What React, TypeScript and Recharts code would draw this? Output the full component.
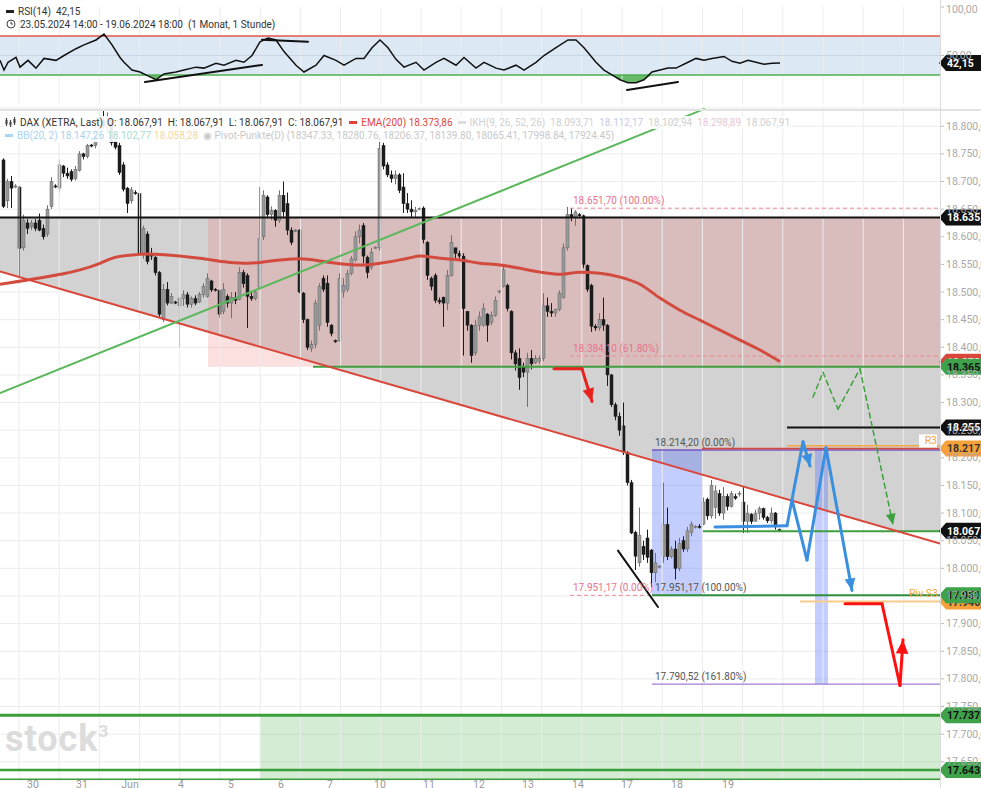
import React from 'react';
import {
  ComposedChart, Bar, Line, Area, XAxis, YAxis, ReferenceLine, ReferenceArea, ReferenceDot, CartesianGrid,
} from 'recharts';

const FONT = 'Roboto, "Liberation Sans", Arial, sans-serif';

// hourly candles [open, high, low, close]
const candles: number[][] = [
  [18739,18742,18652,18655],[18665,18705,18652,18700],[18700,18710,18652,18688],[18690,18695,18688,18692],
  [18690,18692,18527,18579],[18580,18640,18575,18630],[18625,18632,18605,18615],[18618,18630,18612,18625],
  [18625,18632,18610,18615],[18630,18642,18610,18612],[18615,18622,18595,18600],[18605,18657,18600,18650],
  [18655,18708,18650,18700],[18692,18695,18688,18690],[18688,18740,18680,18730],[18728,18730,18708,18715],
  [18715,18725,18705,18710],[18718,18722,18700,18704],[18705,18728,18702,18722],[18720,18755,18718,18750],
  [18750,18752,18740,18745],[18745,18768,18742,18765],[18766,18768,18762,18764],[18765,18800,18760,18790],
  [18790,18822,18780,18810],[18810,18828,18795,18800],[18800,18825,18790,18815],[18812,18815,18765,18770],
  [18772,18775,18758,18762],[18765,18770,18712,18716],[18730,18735,18682,18686],[18688,18690,18643,18660],
  [18665,18690,18660,18685],[18680,18684,18676,18678],[18678,18682,18565,18570],[18568,18620,18560,18615],
  [18605,18610,18550,18555],[18570,18580,18558,18565],[18563,18565,18530,18535],[18535,18538,18455,18460],
  [18450,18515,18446,18505],[18505,18518,18476,18480],[18480,18498,18478,18492],[18482,18484,18478,18480],
  [18475,18492,18400,18488],[18488,18503,18475,18495],[18495,18500,18472,18478],[18478,18492,18472,18488],
  [18488,18494,18476,18480],[18482,18500,18480,18496],[18495,18516,18490,18510],[18492,18534,18490,18525],
  [18520,18522,18500,18504],[18505,18507,18501,18503],[18503,18505,18453,18460],[18465,18516,18460,18505],
  [18492,18496,18472,18480],[18480,18500,18453,18490],[18490,18500,18478,18485],[18487,18545,18485,18535],
  [18535,18540,18508,18515],[18530,18534,18435,18492],[18492,18500,18484,18488],[18488,18505,18485,18500],
  [18509,18690,18505,18597],[18600,18684,18594,18675],[18672,18675,18634,18640],[18640,18655,18630,18648],
  [18648,18650,18618,18630],[18630,18684,18625,18675],[18675,18700,18635,18645],[18660,18680,18603,18612],
  [18612,18617,18585,18590],[18610,18614,18608,18612],[18612,18614,18498,18500],[18498,18500,18444,18450],
  [18450,18452,18395,18400],[18398,18412,18392,18405],[18405,18486,18398,18480],[18440,18516,18430,18510],
  [18525,18530,18500,18505],[18516,18530,18437,18445],[18440,18442,18420,18425],[18412,18414,18408,18410],
  [18412,18534,18410,18525],[18500,18525,18490,18512],[18505,18540,18500,18534],[18534,18565,18530,18560],
  [18558,18610,18555,18600],[18600,18622,18588,18612],[18620,18625,18552,18565],[18563,18566,18525,18535],
  [18545,18580,18540,18572],[18580,18583,18578,18581],[18580,18772,18575,18760],[18765,18770,18722,18728],
  [18730,18735,18708,18712],[18712,18720,18698,18705],[18705,18720,18695,18712],[18712,18715,18679,18684],
  [18690,18715,18643,18660],[18660,18679,18643,18650],[18650,18666,18635,18645],[18645,18654,18635,18648],
  [18650,18653,18648,18651],[18652,18655,18588,18595],[18590,18592,18522,18530],[18525,18528,18503,18510],
  [18530,18534,18480,18485],[18485,18490,18478,18482],[18490,18492,18437,18480],[18480,18540,18467,18530],
  [18530,18603,18528,18590],[18580,18580,18560,18570],[18570,18575,18560,18565],[18565,18570,18385,18470],
  [18465,18465,18430,18440],[18440,18442,18372,18385],[18390,18450,18385,18440],[18440,18465,18430,18455],
  [18440,18480,18437,18470],[18460,18462,18410,18440],[18445,18465,18440,18458],[18458,18492,18455,18485],
  [18500,18503,18497,18502],[18510,18547,18508,18540],[18512,18515,18465,18470],[18465,18467,18378,18390],
  [18390,18395,18358,18370],[18380,18398,18323,18345],[18365,18372,18346,18355],[18355,18390,18292,18380],
  [18380,18395,18360,18370],[18372,18386,18370,18380],[18375,18385,18370,18380],[18380,18498,18375,18475],
  [18475,18490,18455,18465],[18465,18480,18455,18462],[18462,18470,18455,18468],[18468,18503,18465,18498],
  [18490,18588,18488,18580],[18580,18654,18575,18640],[18640,18652,18628,18635],[18635,18648,18620,18645],
  [18640,18643,18635,18638],[18638,18640,18543,18550],[18548,18550,18500,18505],[18512,18515,18428,18438],
  [18438,18442,18430,18435],[18435,18462,18430,18450],[18450,18490,18430,18440],[18440,18442,18330,18350],
  [18350,18352,18292,18296],[18296,18300,18268,18275],[18275,18282,18240,18250],[18258,18300,18205,18210],
  [18210,18212,18150,18155],[18155,18160,18062,18064],[18065,18068,17997,18022],[18010,18110,18003,18060],
  [18040,18050,18015,18025],[18055,18070,18010,18020],[18033,18035,17966,17992],[17992,18028,17975,18010],
  [18003,18006,18000,18004],[18021,18155,18010,18079],[18079,18110,18015,18021],[18021,18040,18018,18035],
  [18035,18050,17980,18000],[18000,18055,17995,18045],[18050,18058,18030,18035],[18035,18075,18030,18068],
  [18065,18085,18058,18080],[18074,18078,18072,18076],[18076,18080,18072,18074],[18080,18128,18078,18120],
  [18125,18128,18088,18095],[18095,18160,18090,18150],[18110,18150,18090,18140],[18135,18142,18095,18100],
  [18100,18147,18088,18130],[18130,18135,18105,18112],[18112,18140,18110,18135],[18130,18135,18124,18127],
  [18135,18140,18130,18136],[18120,18147,18064,18085],[18085,18115,18064,18100],[18098,18100,18080,18085],
  [18085,18106,18085,18100],[18100,18112,18088,18108],[18108,18110,18088,18092],[18092,18095,18082,18086],
  [18086,18110,18081,18100],[18100,18102,18070,18075],[18070,18072,18066,18068],
];

// EMA(200) [candle index, value]
const emaPoints: number[][] = [
  [-1,18514],[7,18523],[14,18532],[19,18540],[24,18552],[27,18561],[32,18567],[36,18569],[41,18567],
  [49,18561],[56,18554],[61,18552],[69,18558],[74,18560],[81,18554],[86,18550],[90,18549],[94,18552],
  [101,18561],[104,18565],[109,18561],[114,18558],[119,18552],[124,18549],[129,18543],[134,18536],
  [139,18532],[144,18536],[149,18534],[154,18527],[159,18514],[164,18489],[169,18467],[174,18449],
  [179,18431],[184,18413],[189,18395],[194,18374],
];

// RSI(14) [candle index, value]
const rsiPoints: number[][] = [
  [-1,45],[0,35],[1,43],[3,48],[4,38],[6,45],[8,37],[10,47],[13,45],[15,50],[18,57],[20,61],[23,66],[25,72],
  [27,61],[29,48],[30,43],[32,35],[34,33],[36,29],[38,25],[40,31],[43,33],[45,35],[48,38],[50,37],[53,42],
  [55,40],[58,45],[60,43],[62,50],[64,64],[66,68],[68,66],[70,54],[73,40],[75,33],[78,40],[80,50],[83,45],
  [85,40],[88,47],[90,47],[92,58],[94,66],[96,58],[98,46],[100,38],[103,43],[105,35],[108,43],[110,47],
  [113,40],[115,48],[118,37],[120,43],[123,37],[125,35],[128,40],[130,35],[133,43],[135,50],[138,58],
  [141,66],[143,66],[145,58],[148,43],[150,35],[152,30],[154,25],[156,22],[158,22],[160,25],[162,33],
  [164,35],[166,37],[168,37],[171,43],[173,47],[175,45],[177,47],[180,49],[182,44],[184,42],[186,45],
  [188,43],[190,41],[192,42],[194,42.15],
];

const dayTicks = [7.25, 19.5, 31.5, 44.25, 56.75, 69.25, 81.5, 94, 106.25, 118.75, 131, 143.5, 155.75, 168.25, 181];
const dayLabels = ['30', '31', 'Jun', '4', '5', '6', '7', '10', '11', '12', '13', '14', '17', '18', '19'];
const priceTicks = [17650, 17700, 17750, 17800, 17850, 17900, 17950, 18000, 18050, 18100, 18150, 18200, 18250,
  18300, 18350, 18400, 18450, 18500, 18550, 18600, 18650, 18700, 18750, 18800];
const rsiTicks = [0, 50, 100];
const gridX = [3.75, 13.8, 23.85, 33.9, 43.95, 54, 64.05, 74.1, 84.15, 94.2, 104.25, 114.3, 124.35, 134.4,
  144.45, 154.5, 164.55, 174.6, 184.65, 194.7, 204.75, 214.8, 224.85];

// drawn zones / lines (index, price)
const grayZone: number[][] = [[-1, 18537, 18635], [223, 18067, 18635], [234, 18067, 18635]];
const trendDown = [[-1, 18537], [234, 18045]];
const trendUp = [[-1, 18317], [175, 18831]];
const wedgeLine = [[153.5, 18032], [163.5, 17930]];
const redPathTop = [[137.5, 18361], [144.5, 18361], [147, 18302]];
const bluePath1 = [[177.75, 18075], [195.75, 18077], [199.75, 18229], [201.5, 18185]];
const bluePath2 = [[197, 18124], [200.75, 18015], [205.5, 18218], [212, 17960]];
const greenDashPath = [[202.25, 18310], [204.75, 18355], [208.5, 18288], [214, 18361], [222.25, 18079]];
const redPathBottom = [[210.25, 17936], [219.5, 17936], [224, 17788], [224.75, 17871]];
const rsiDiv1 = [[35.25, 22.7], [64.5, 40.3]];
const rsiDiv2 = [[64.5, 66.2], [76, 64.1]];
const rsiDiv3 = [[155.75, 14.5], [168.5, 22.7]];

// horizontal levels [from, to, price, color, width, dash]
const levels: any[] = [
  [-1, 234, 18635, '#111', 2, ''],
  [77.25, 234, 18365, '#3f9f3f', 2, ''],
  [195.75, 234, 18255, '#111', 2, ''],
  [195.75, 234, 18222, '#f4a640', 1.5, ''],
  [162, 234, 18214.2, '#7a55c0', 1.5, ''],
  [174.5, 234, 18217, '#d9473b', 1.5, ''],
  [174.75, 234, 18067, '#3f9f3f', 2, ''],
  [162, 234, 17951.17, '#2f8f3f', 2, ''],
  [199, 234, 17940, '#f9cc8a', 2, ''],
  [162, 234, 17790.52, '#8a5cc8', 1, ''],
  [-1, 234, 17734, '#3a9e3a', 3, ''],
  [-1, 234, 17635, '#3a9e3a', 2.5, ''],
  [-1, 234, 17618, '#3a9e3a', 2, ''],
  [141.5, 234, 18651.7, '#ea8a95', 1, '4 3'],
  [141.5, 234, 18384.1, '#ea8a95', 1, '4 3'],
  [141.5, 162, 17951.17, '#ea8a95', 1, '4 3'],
];

// fib texts [index, price, text, color]
const fibTexts: any[] = [
  [142.25, 18651.7, '18.651,70 (100.00%)', '#e7748a'],
  [142.25, 18384.1, '18.384,10 (61.80%)', '#e7748a'],
  [142.25, 17951.17, '17.951,17 (0.00%)', '#e7748a'],
  [162.75, 18214.2, '18.214,20 (0.00%)', '#555'],
  [162.75, 17951.17, '17.951,17 (100.00%)', '#555'],
  [162.75, 17790.52, '17.790,52 (161.80%)', '#555'],
];

// right price badges [price, text, bg, fg]
const badges: any[] = [
  [18635, '18.635,00', '#111', '#fff'],
  [18373.86, '18.373,86', '#d9473b', '#fff'],
  [18365, '18.365,00', '#3fa24a', '#111'],
  [18255, '18.255,00', '#111', '#fff'],
  [18217, '18.217,00', '#f7a13a', '#333'],
  [18067.91, '18.067,91', '#111', '#fff'],
  [17940, '17.940,00', '#f7a13a', '#333'],
  [17951.17, '17.951,17', '#3fa24a', '#111'],
  [17734, '17.737,00', '#3fa24a', '#111'],
  [17635, '17.643,00', '#3fa24a', '#111'],
];

const fmtDe = (v: number, d = 2) => {
  const s = v.toFixed(d);
  const [a, b] = s.split('.');
  const int = a.replace(/\B(?=(\d{3})+(?!\d))/g, '.');
  return b ? `${int},${b}` : int;
};

const rows: any[] = [];
for (let i = -1; i <= 234; i++) rows.push({ i });
candles.forEach((c, k) => {
  const r = rows[k + 1];
  r.o = c[0]; r.h = c[1]; r.l = c[2]; r.c = c[3]; r.range = [c[2], c[1]];
});
emaPoints.forEach(([i, v]) => { rows[i + 1].ema = v; });
grayZone.forEach(([i, lo, hi]) => { rows[i + 1].gray = [lo, hi]; });

const rsiRows = rsiPoints.map(([i, v]) => ({ i, rsi: v, low: v < 30 ? [v, 30] : [30, 30] }));

const Candle = (props: any) => {
  const { x, y, width, height, payload } = props;
  if (!payload || payload.o == null || x == null || isNaN(y)) return null;
  const { o, h, l, c } = payload;
  const top = Math.min(y, y + height);
  const hh = Math.abs(height);
  const k = h > l ? hh / (h - l) : 0;
  const yo = top + (h - o) * k;
  const yc = top + (h - c) * k;
  const up = c >= o;
  const cx = x + width / 2;
  const bt = Math.min(yo, yc);
  const bh = Math.max(Math.abs(yc - yo), 1);
  return (
    <g>
      <line x1={cx} x2={cx} y1={top} y2={top + Math.max(hh, 1)} stroke={up ? '#707070' : '#1c1c1c'} strokeWidth={1} />
      <rect x={x} y={bt} width={width} height={bh} fill={up ? '#9a9a9a' : '#1c1c1c'} stroke={up ? '#666' : '#1c1c1c'} strokeWidth={0.5} />
    </g>
  );
};

const arrowHead = (color: string, angle: number, size = 12) => (p: any) => (
  <polygon
    points={`0,0 ${-size},${-size * 0.45} ${-size},${size * 0.45}`}
    transform={`translate(${p.cx},${p.cy}) rotate(${angle})`}
    fill={color}
  />
);

const segs = (pts: number[][], color: string, width: number, dash: string, key: string) =>
  pts.slice(1).map((p, k) => (
    <ReferenceLine
      key={`${key}${k}`}
      segment={[{ x: pts[k][0], y: pts[k][1] }, { x: p[0], y: p[1] }]}
      stroke={color}
      strokeWidth={width}
      strokeDasharray={dash || undefined}
      strokeLinecap="round"
      ifOverflow="hidden"
    />
  ));

const PriceTick = (p: any) => (
  <text x={p.x} y={p.y} dy={3.5} fill="#a9a9a9" fontSize={10.5} fontFamily={FONT}>{fmtDe(p.payload.value)}</text>
);
const DayTick = (p: any) => (
  <text x={p.x} y={p.y} dy={8} fill="#999" fontSize={10.5} fontFamily={FONT} textAnchor="middle">
    {dayLabels[dayTicks.indexOf(p.payload.value)] ?? ''}
  </text>
);

const badgeShape = (text: string, bg: string, fg: string) => (p: any) => (
  <g>
    <path d={`M${p.cx - 1} ${p.cy} L${p.cx + 6} ${p.cy - 8} L${p.cx + 60} ${p.cy - 8} L${p.cx + 60} ${p.cy + 8} L${p.cx + 6} ${p.cy + 8} Z`} fill={bg} />
    <text x={p.cx + 7} y={p.cy + 4} fill={fg} fontSize={10.5} fontWeight="bold" fontFamily={FONT}>{text}</text>
  </g>
);

const textShape = (text: string, color: string, size = 10, anchor = 'start', dx = 0, dy = -4, bg = false) => (p: any) => (
  <g>
    {bg && <rect x={p.cx + dx - 18} y={p.cy + dy - 10} width={18} height={13} fill="#fff" />}
    <text x={p.cx + dx} y={p.cy + dy} fill={color} fontSize={size} fontFamily={FONT} textAnchor={anchor as any}>{text}</text>
  </g>
);

const BarsIcon = () => (
  <svg width="11" height="10" style={{ marginRight: 4, verticalAlign: -1 }}>
    <line x1="1.5" y1="1" x2="1.5" y2="9" stroke="#444" strokeWidth="1.2" />
    <line x1="5.5" y1="3" x2="5.5" y2="10" stroke="#444" strokeWidth="1.2" />
    <line x1="9.5" y1="0" x2="9.5" y2="8" stroke="#444" strokeWidth="1.2" />
    <rect x="0.5" y="3" width="2" height="4" fill="#444" />
    <rect x="4.5" y="5" width="2" height="3" fill="#444" />
    <rect x="8.5" y="2" width="2" height="4" fill="#444" />
  </svg>
);

const Dash = ({ color }: { color: string }) => (
  <span style={{ display: 'inline-block', width: 8, height: 3, background: color, marginRight: 4, verticalAlign: 2 }} />
);

const S = ({ c, m = 5, children }: any) => <span style={{ color: c, marginRight: m }}>{children}</span>;

export default function App() {
  return (
    <div style={{ position: 'fixed', left: 0, top: 0, width: 981, height: 788, overflow: 'hidden', background: '#fff', fontFamily: FONT }}>
      {/* RSI panel */}
      <div style={{ position: 'absolute', left: 0, top: 0 }}>
        <ComposedChart width={981} height={110} data={rsiRows} margin={{ top: 7, right: 0, bottom: 6, left: 0 }}>
          <XAxis dataKey="i" type="number" domain={[-1, 234]} hide allowDataOverflow />
          <YAxis orientation="right" type="number" domain={[0, 100]} ticks={rsiTicks} width={41} axisLine={false}
            tickLine={{ stroke: '#bbb' }} tickSize={4} tick={<PriceTick />} />
          {gridX.map((g) => <ReferenceLine key={`rg${g}`} x={g} stroke="#ededed" />)}
          <ReferenceArea x1={-1} x2={234} y1={30} y2={70} fill="#dce9f5" fillOpacity={1} stroke="none" ifOverflow="hidden" />
          <ReferenceLine y={50} stroke="#c9d7e6" />
          <ReferenceLine y={70} stroke="#e2574c" strokeWidth={1.5} />
          <ReferenceLine y={30} stroke="#4caf50" strokeWidth={1.5} />
          <Area dataKey="low" type="linear" fill="#4caf50" fillOpacity={0.85} stroke="none" isAnimationActive={false} />
          <Line dataKey="rsi" type="linear" stroke="#111" strokeWidth={1.5} dot={false} isAnimationActive={false} />
          {segs(rsiDiv1, '#111', 2, '', 'd1')}
          {segs(rsiDiv2, '#111', 2, '', 'd2')}
          {segs(rsiDiv3, '#111', 2, '', 'd3')}
          <ReferenceDot x={234} y={42.15} r={0} ifOverflow="visible" shape={badgeShape('42,15', '#111', '#fff')} />
        </ComposedChart>
      </div>

      {/* Main panel */}
      <div style={{ position: 'absolute', left: 0, top: 0 }}>
        <ComposedChart width={981} height={800} data={rows} margin={{ top: 108, right: 0, bottom: 0, left: 0 }}>
          <CartesianGrid vertical={false} stroke="#ececec" />
          <XAxis dataKey="i" type="number" domain={[-1, 234]} ticks={dayTicks} allowDataOverflow
            axisLine={false} tickLine={false} height={20} tickSize={0} tickMargin={0} tick={<DayTick />} />
          <YAxis orientation="right" type="number" domain={[17617, 18833]} ticks={priceTicks} width={41}
            allowDataOverflow axisLine={false} tickLine={{ stroke: '#bbb' }} tickSize={4} tick={<PriceTick />} />
          {gridX.map((g) => <ReferenceLine key={`mg${g}`} x={g} stroke="#ececec" />)}

          <Area dataKey="gray" type="linear" connectNulls fill="#d2d2d2" fillOpacity={1} stroke="none" isAnimationActive={false} />
          <ReferenceArea x1={51} x2={234} y1={18365} y2={18635} fill="#f07070" fillOpacity={0.22} stroke="none" ifOverflow="hidden" />
          <ReferenceArea x1={162} x2={174.5} y1={17951.17} y2={18214.2} fill="#5a78ff" fillOpacity={0.36} stroke="none" ifOverflow="hidden" />
          <ReferenceArea x1={202.75} x2={206} y1={17790.52} y2={18217} fill="#5a78ff" fillOpacity={0.36} stroke="none" ifOverflow="hidden" />
          <ReferenceArea x1={64} x2={234} y1={17617} y2={17734} fill="#5cb85c" fillOpacity={0.27} stroke="none" ifOverflow="hidden" />

          {levels.map(([a, b, p, col, w, d], k) => (
            <ReferenceLine key={`lv${k}`} segment={[{ x: a, y: p }, { x: b, y: p }]} stroke={col} strokeWidth={w}
              strokeDasharray={d || undefined} ifOverflow="hidden" />
          ))}

          <Bar dataKey="range" barSize={3} shape={Candle} isAnimationActive={false} />

          <Line dataKey="ema" type="monotone" connectNulls stroke="#d24b3e" strokeWidth={3} dot={false} isAnimationActive={false} />
          {segs(trendDown, '#d9473b', 2, '', 'td')}
          {segs(trendUp, '#5cb85c', 2, '', 'tu')}
          {segs(wedgeLine, '#111', 2, '', 'wl')}
          {segs(redPathTop, '#e8221e', 3, '', 'rt')}
          {segs(bluePath1, '#3b8fe0', 3, '', 'b1')}
          {segs(bluePath2, '#3b8fe0', 3, '', 'b2')}
          {segs(greenDashPath, '#3da23d', 1.5, '5 4', 'gd')}
          {segs(redPathBottom, '#ff1010', 3, '', 'rb')}

          <ReferenceDot x={147} y={18302} r={0} ifOverflow="visible" shape={arrowHead('#e8221e', 73.6, 13)} />
          <ReferenceDot x={201.5} y={18185} r={0} ifOverflow="visible" shape={arrowHead('#3b8fe0', 75, 12)} />
          <ReferenceDot x={212} y={17960} r={0} ifOverflow="visible" shape={arrowHead('#3b8fe0', 80, 12)} />
          <ReferenceDot x={222.25} y={18079} r={0} ifOverflow="visible" shape={arrowHead('#3da23d', 78, 11)} />
          <ReferenceDot x={224.75} y={17871} r={0} ifOverflow="visible" shape={arrowHead('#ff1010', -86, 14)} />

          {fibTexts.map(([x, y, t, col], k) => (
            <ReferenceDot key={`ft${k}`} x={x} y={y} r={0} ifOverflow="visible" shape={textShape(t, col, 10)} />
          ))}
          <ReferenceDot x={234} y={18217} r={0} ifOverflow="visible" shape={textShape('R3', '#f4a640', 10.5, 'end', -3, -4, true)} />
          <ReferenceDot x={234} y={17940} r={0} ifOverflow="visible" shape={textShape('Piv S3', '#f4a640', 10.5, 'end', -2, -5)} />

          {badges.map(([p, t, bg, fg], k) => (
            <ReferenceDot key={`bd${k}`} x={234} y={p} r={0} ifOverflow="visible" shape={badgeShape(t, bg, fg)} />
          ))}
        </ComposedChart>
      </div>

      {/* separators */}
      <div style={{ position: 'absolute', left: 0, top: 109, width: 981, height: 2, background: '#e2e2e2' }} />
      <div style={{ position: 'absolute', left: 940, top: 0, width: 1, height: 788, background: '#dcdcdc' }} />

      {/* RSI header */}
      <div style={{ position: 'absolute', left: 6, top: 5, fontSize: 10, color: '#333', whiteSpace: 'pre', lineHeight: '13px' }}>
        <div><Dash color="#222" />RSI(14)  42,15</div>
        <div>
          <svg width="10" height="10" style={{ marginRight: 4, verticalAlign: -1 }}>
            <circle cx="5" cy="5" r="4" fill="none" stroke="#444" strokeWidth="1" />
            <path d="M5 2.5 V5 H7" fill="none" stroke="#444" strokeWidth="1" />
          </svg>
          23.05.2024 14:00 - 19.06.2024 18:00  (1 Monat, 1 Stunde)
        </div>
      </div>

      {/* Main header */}
      <div style={{ position: 'absolute', left: 5, top: 116, fontSize: 10, whiteSpace: 'pre', lineHeight: '13px' }}>
        <div style={{ background: 'rgba(255,255,255,0.9)', display: 'inline-block', color: '#333' }}>
          <BarsIcon />
          <S c="#333" m={4}>DAX (XETRA, Last)</S>
          <S c="#333">O: 18.067,91</S>
          <S c="#333">H: 18.067,91</S>
          <S c="#333">L: 18.067,91</S>
          <S c="#333" m={6}>C: 18.067,91</S>
          <Dash color="#e2463a" />
          <S c="#e2463a">EMA(200) 18.373,86</S>
          <Dash color="#dddddd" />
          <S c="#cfcfcf">IKH(9, 26, 52, 26)</S>
          <S c="#cfcfcf">18.093,71</S>
          <S c="#c9c9e6">18.112,17</S>
          <S c="#cfcfcf">18.102,94</S>
          <S c="#e8c6d6">18.298,89</S>
          <S c="#cfcfcf" m={0}>18.067,91</S>
        </div>
        <br />
        <div style={{ background: 'rgba(255,255,255,0.9)', display: 'inline-block' }}>
          <Dash color="#a9d8f2" />
          <S c="#a9d3ef" m={3}>BB(20, 2) 18.147,26</S>
          <S c="#a9ddd0" m={3}>18.102,77</S>
          <S c="#f4d7a0" m={5}>18.058,28</S>
          <S c="#c8c8c8" m={0}>◉ Pivot-Punkte(D) (18347.33, 18280.76, 18206.37, 18139.80, 18065.41, 17998.84, 17924.45)</S>
        </div>
      </div>

      {/* watermark */}
      <div style={{ position: 'absolute', left: 5, top: 718, fontSize: 36, fontWeight: 'bold', color: '#dcdcdc', letterSpacing: 1, fontFamily: FONT }}>
        stock<sup style={{ fontSize: 17, verticalAlign: 14 }}>3</sup>
      </div>
    </div>
  );
}
